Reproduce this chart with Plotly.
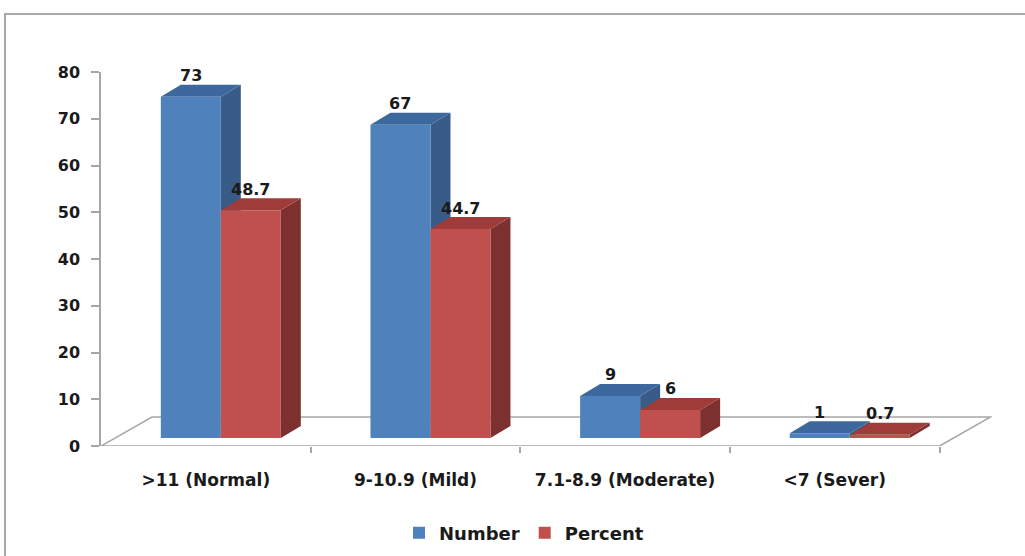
import plotly.graph_objects as go

categories = [">11 (Normal)", "9-10.9 (Mild)", "7.1-8.9 (Moderate)", "<7 (Sever)"]
number_vals = [73, 67, 9, 1]
percent_vals = [48.7, 44.7, 6, 0.7]
y_ticks = [0, 10, 20, 30, 40, 50, 60, 70, 80]

W, H = 1025, 556
ML, MR, MT, MB = 101, 33, 72, 110
X_RANGE = [-0.5, 3.75]
Y_RANGE = [0, 80]
px_x = (W - ML - MR) / (X_RANGE[1] - X_RANGE[0])
px_y = (H - MT - MB) / (Y_RANGE[1] - Y_RANGE[0])

# 3D geometry (in data units)
BASE = 8 / px_y          # bars sit a bit behind the floor front edge
SHIFT = 15 / px_x        # bars shifted right due to depth
BW = 60 / px_x           # bar width
DX = 20 / px_x           # depth x offset
DY = 12 / px_y           # depth y offset
FLOOR_DX = 51 / px_x
FLOOR_DY = 29 / px_y

blue_front, blue_side, blue_top = "#4F81BD", "#385C87", "#3D689E"
red_front, red_side, red_top = "#C0504D", "#7C312F", "#9F3B38"
gray = "#A6A6A6"
FONT = "DejaVu Sans, Verdana, sans-serif"
TXT = "#1a1a1a"

idx = list(range(len(categories)))
blue_x = [i + SHIFT - BW / 2 for i in idx]
red_x = [i + SHIFT + BW / 2 for i in idx]

fig = go.Figure()
fig.add_trace(go.Bar(x=blue_x, y=number_vals, base=BASE, width=BW, name="Number",
                     marker=dict(color=blue_front, line=dict(width=0)), hoverinfo="skip"))
fig.add_trace(go.Bar(x=red_x, y=percent_vals, base=BASE, width=BW, name="Percent",
                     marker=dict(color=red_front, line=dict(width=0)), hoverinfo="skip"))

shapes = []
# outer frame
shapes.append(dict(type="rect", xref="paper", yref="paper",
                   x0=(5 - ML) / (W - ML - MR), x1=1.2,
                   y0=-0.5, y1=(H - MB - 14) / (H - MT - MB),
                   line=dict(color="#A8A8A8", width=2), layer="below"))
# floor
x0f, x1f = X_RANGE[0], 3.5
floor_path = (f"M{x0f},0 L{x0f + FLOOR_DX},{FLOOR_DY} L{x1f + FLOOR_DX},{FLOOR_DY} "
              f"L{x1f},0 Z")
shapes.append(dict(type="path", xref="x", yref="y", path=floor_path,
                   line=dict(color=gray, width=1.5), layer="below"))


def faces(xc, v, side_col, top_col):
    xl, xr = xc - BW / 2, xc + BW / 2
    b, t = BASE, BASE + v
    side = f"M{xr},{b} L{xr},{t} L{xr + DX},{t + DY} L{xr + DX},{b + DY} Z"
    top = f"M{xl},{t} L{xl + DX},{t + DY} L{xr + DX},{t + DY} L{xr},{t} Z"
    return [dict(type="path", xref="x", yref="y", path=side, fillcolor=side_col,
                 line=dict(width=0), layer="below"),
            dict(type="path", xref="x", yref="y", path=top, fillcolor=top_col,
                 line=dict(width=0), layer="below")]


for i in idx:
    shapes += faces(blue_x[i], number_vals[i], blue_side, blue_top)
    shapes += faces(red_x[i], percent_vals[i], red_side, red_top)

annotations = []
for i in idx:
    for xc, v in ((blue_x[i], number_vals[i]), (red_x[i], percent_vals[i])):
        annotations.append(dict(x=xc, y=BASE + v + 21 / px_y, xref="x", yref="y",
                                text=f"<b>{v:g}</b>", showarrow=False, yanchor="middle",
                                font=dict(family=FONT, size=16, color=TXT)))

fig.update_layout(
    width=W, height=H,
    margin=dict(l=ML, r=MR, t=MT, b=MB),
    paper_bgcolor="white", plot_bgcolor="white",
    barmode="overlay",
    shapes=shapes,
    annotations=annotations,
    showlegend=True,
    legend=dict(orientation="h", xref="container", yref="container",
                x=524 / W, xanchor="center", y=1 - 533 / H, yanchor="middle",
                font=dict(family=FONT, size=18, color=TXT, weight="bold"),
                itemwidth=30, traceorder="normal"),
    xaxis=dict(range=X_RANGE, tickmode="array", tickvals=idx, ticktext=categories,
               ticks="", showgrid=False, zeroline=False, showline=False,
               ticklabelstandoff=22,
               tickfont=dict(family=FONT, size=17, color=TXT, weight="bold"),
               minor=dict(tickmode="array", tickvals=[0.5, 1.5, 2.5, 3.5], ticks="outside",
                          ticklen=6, tickcolor=gray, tickwidth=1.5, showgrid=False)),
    yaxis=dict(range=Y_RANGE, tickmode="array", tickvals=y_ticks,
               ticks="outside", ticklen=8, tickcolor=gray, tickwidth=1.5,
               showline=True, linecolor=gray, linewidth=1.5,
               showgrid=False, zeroline=False, ticklabelstandoff=8,
               tickfont=dict(family=FONT, size=16, color=TXT, weight="bold")),
)

fig.write_html("out.html")
